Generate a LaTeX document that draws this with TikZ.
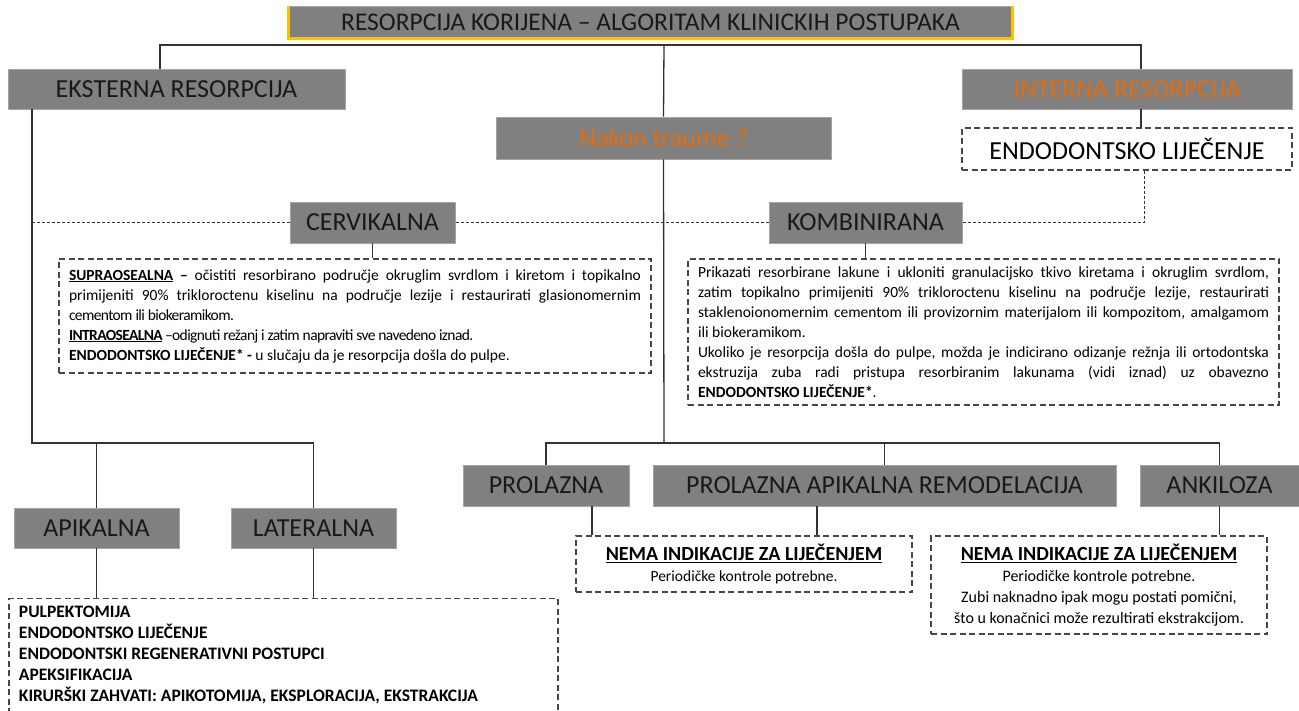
\documentclass[tikz,border=0pt]{standalone}
\usepackage{fontspec}
\setmainfont{Carlito}
\frenchspacing

\definecolor{sivo}{HTML}{808080}
\definecolor{narancasto}{HTML}{E46C0A}
\definecolor{zlatno}{HTML}{FFC000}
\definecolor{crta}{HTML}{333333}

\newcommand{\zbijeno}{\addfontfeature{LetterSpace=-4}}

\tikzset{
  kutija/.style={fill=sivo, draw=sivo!70!white, line width=0.8pt, inner sep=0pt, text=black!90, font=\fontsize{26}{31}\selectfont},
  iscrtkano/.style={draw=crta!90, line width=1.2pt, dash pattern=on 6pt off 3.5pt, fill=white, inner sep=0pt},
  veza/.style={draw=crta, line width=1.3pt},
  tanka/.style={draw=crta, line width=1pt, dash pattern=on 3pt off 2pt},
  sitno/.style={font=\fontsize{15.5}{20}\selectfont}
}

\begin{document}
\begin{tikzpicture}[x=1pt,y=-1pt]
\useasboundingbox (0,0) rectangle (1299,711);

% naslov
\node[kutija, minimum width=723, minimum height=32, font=\fontsize{25.5}{30}\selectfont] (naslov) at (650.5,22) {RESORPCIJA KORIJENA – ALGORITAM KLINICKIH POSTUPAKA};
\draw[zlatno, line width=3pt] (naslov.north west) -- (naslov.south west) -- (naslov.south east) -- (naslov.north east);

% gornji red
\node[kutija, minimum width=337, minimum height=40] (eksterna) at (176.5,89) {EKSTERNA RESORPCIJA};
\node[kutija, minimum width=330, minimum height=40, text=narancasto] (interna) at (1127,89) {INTERNA RESORPCIJA};
\node[kutija, minimum width=335, minimum height=42, text=narancasto] (trauma) at (663.5,138) {Nakon traume ?};
\node[iscrtkano, minimum width=330, minimum height=42, font=\fontsize{26}{31}\selectfont] (endo) at (1127,149) {ENDODONTSKO LIJEČENJE};

% cervikalna i kombinirana
\node[kutija, minimum width=165, minimum height=41] (cervikalna) at (372.5,222.5) {CERVIKALNA};
\node[kutija, minimum width=193, minimum height=41] (kombinirana) at (865.5,222.5) {KOMBINIRANA};

\node[iscrtkano, sitno, text width=572, inner xsep=10pt, minimum height=114, align=justify] (cervopis) at (355,316) {\underline{\textbf{SUPRAOSEALNA}} \textbf{–} očistiti resorbirano područje okruglim svrdlom i kiretom i topikalno\linebreak primijeniti 90\% trikloroctenu kiselinu na područje lezije i restaurirati glasionomernim\linebreak {\zbijeno cementom ili biokeramikom.}\\{\zbijeno\underline{\textbf{INTRAOSEALNA}} –odignuti režanj i zatim napraviti sve navedeno iznad.}\\\textbf{ENDODONTSKO LIJEČENJE* -} u slučaju da je resorpcija došla do pulpe.};

\node[iscrtkano, sitno, text width=571, inner xsep=10pt, minimum height=146, align=justify] (kombopis) at (983.5,332) {Prikazati resorbirane lakune i ukloniti granulacijsko tkivo kiretama i okruglim svrdlom,\linebreak zatim topikalno primijeniti 90\% trikloroctenu kiselinu na područje lezije, restaurirati\linebreak staklenoionomernim cementom ili provizornim materijalom ili kompozitom, amalgamom\linebreak ili biokeramikom.\\Ukoliko je resorpcija došla do pulpe, možda je indicirano odizanje režnja ili ortodontska\linebreak ekstruzija zuba radi pristupa resorbiranim lakunama (vidi iznad) uz obavezno\linebreak \textbf{ENDODONTSKO LIJEČENJE*}.};

% donji red
\node[kutija, minimum width=165, minimum height=40] (apikalna) at (96.5,528) {APIKALNA};
\node[kutija, minimum width=165, minimum height=40] (lateralna) at (313.5,528) {LATERALNA};
\node[kutija, minimum width=166, minimum height=41] (prolazna) at (546,485.5) {PROLAZNA};
\node[kutija, minimum width=463, minimum height=41] (remodelacija) at (884.5,485.5) {PROLAZNA APIKALNA REMODELACIJA};
\node[kutija, minimum width=159, minimum height=41] (ankiloza) at (1219.5,485.5) {ANKILOZA};

\node[iscrtkano, text width=529, inner xsep=10pt, minimum height=113, align=flush left, font=\fontsize{17.5}{21}\selectfont\bfseries] (postupci) at (283.5,655) {PULPEKTOMIJA\\ENDODONTSKO LIJEČENJE\\ENDODONTSKI REGENERATIVNI POSTUPCI\\APEKSIFIKACIJA\\KIRURŠKI ZAHVATI: APIKOTOMIJA, EKSPLORACIJA, EKSTRAKCIJA};

\node[iscrtkano, minimum width=336, minimum height=56, align=center, font=\fontsize{15.5}{21}\selectfont] (nema1) at (744,564) {{\fontsize{20}{22}\selectfont\bfseries\underline{NEMA INDIKACIJE ZA LIJEČENJEM}}\\Periodičke kontrole potrebne.};
\node[iscrtkano, minimum width=336, minimum height=98, align=center, font=\fontsize{16}{21}\selectfont] (nema2) at (1099,585) {{\fontsize{20}{22}\selectfont\bfseries\underline{NEMA INDIKACIJE ZA LIJEČENJEM}}\\Periodičke kontrole potrebne.\\Zubi naknadno ipak mogu postati pomični,\\što u konačnici može rezultirati ekstrakcijom.};

% veze
\coordinate (vrh) at (664,45);
\coordinate (dno) at (664,443);
\coordinate (lijevo) at (32,443);
\coordinate (e1) at ([xshift=-16.5pt]eksterna.north);
\coordinate (e2) at ([xshift=-144.5pt]eksterna.south);
\coordinate (i1) at ([xshift=14pt]interna.north);
\coordinate (i2) at ([xshift=14pt]interna.south);
\coordinate (n1) at ([xshift=17pt]endo.south);
\coordinate (p1) at ([xshift=46pt]prolazna.south);
\coordinate (r1) at ([xshift=-67.5pt]remodelacija.south);

\draw[veza] (e1) |- (vrh) -| (i1);
\draw[veza] (vrh) -- (trauma.north);
\draw[veza] (trauma.south) -- (dno);
\draw[veza] (i2) -- (i2 |- endo.north);
\draw[tanka] (n1) |- (kombinirana.east);
\draw[tanka] (kombinirana.west) -- (cervikalna.east);
\draw[tanka] (cervikalna.west) -- (cervikalna.west -| lijevo);
\draw[veza] (cervikalna.south) -- (cervikalna.south |- cervopis.north);
\draw[veza] (kombinirana.south) -- (kombinirana.south |- kombopis.north);

\draw[veza] (e2) -- (lijevo) -| (lateralna.north);
\draw[veza] (apikalna.north) -- (apikalna.north |- lijevo);
\draw[veza] (apikalna.south) -- (apikalna.south |- postupci.north);
\draw[veza] (lateralna.south) -- (lateralna.south |- postupci.north);

\draw[veza] (prolazna.north) |- (dno) -| (ankiloza.north);
\draw[veza] (remodelacija.north) -- (remodelacija.north |- dno);
\draw[veza] (p1) -- (p1 |- nema1.north);
\draw[veza] (r1) -- (r1 |- nema1.north);
\draw[veza] (ankiloza.south) -- (ankiloza.south |- nema2.north);
\end{tikzpicture}
\end{document}
